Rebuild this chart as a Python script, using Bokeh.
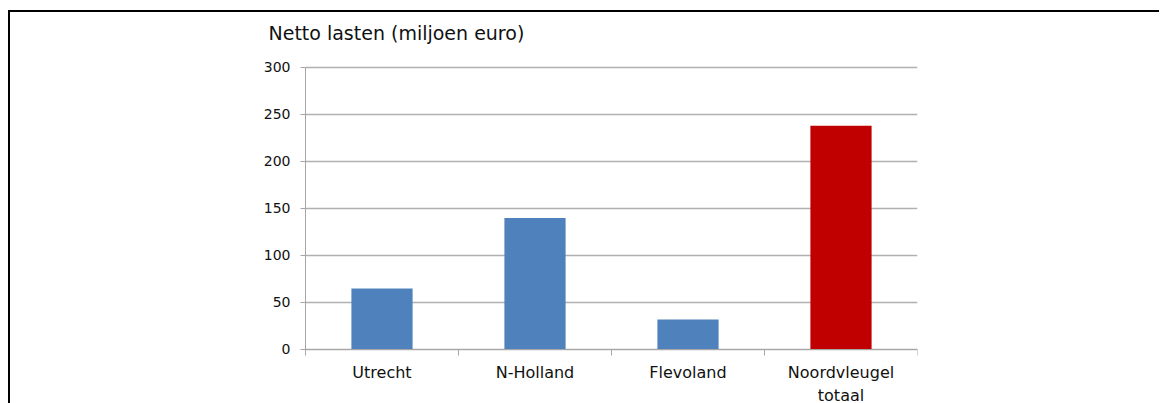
from bokeh.plotting import figure
from bokeh.models import Range1d, FixedTicker, ColumnDataSource, Label
from bokeh.embed import file_html
from bokeh.resources import INLINE

# ---- data ----
categories = ["Utrecht", "N-Holland", "Flevoland", "Noordvleugel\ntotaal"]
values = [65, 140, 32, 238]
bar_colors = ["#4F81BD", "#4F81BD", "#4F81BD", "#C00000"]
y_ticks = [0, 50, 100, 150, 200, 250, 300]
chart_title = "Netto lasten (miljoen euro)"

FONT = "DejaVu Sans"
AXIS_GRAY = "#A6A6A6"

n = len(categories)
y_max = y_ticks[-1]
centers = [i + 0.5 for i in range(n)]
bounds = [float(i) for i in range(n + 1)]

src = ColumnDataSource(dict(x=centers, top=values, color=bar_colors))

# frame covers the whole chart area so title and labels sit inside it;
# axes are pinned at x=0 / y=0 with bounds
p = figure(
    width=1151, height=401,
    x_range=Range1d(-0.3268, n), y_range=Range1d(-68.1, 358.5),
    output_backend="svg", toolbar_location=None,
    min_border_left=245, min_border_right=244,
    min_border_top=0, min_border_bottom=0,
)
p.styles = {"border-left": "2px solid black", "border-top": "2px solid black",
            "margin-top": "10px", "margin-left": "8px", "margin-bottom": "-10px"}
p.outline_line_color = None
p.background_fill_color = "white"
p.border_fill_color = "white"

p.vbar(x="x", top="top", width=0.4, bottom=0, color="color", line_color=None, source=src)

p.add_layout(Label(x=-0.242, y=336.2, text=chart_title, text_baseline="middle",
                   text_font=FONT, text_font_size="19px", text_color="#111111"))

# x axis
xa = p.xaxis[0]
xa.fixed_location = 0
xa.bounds = (0, n)
xa.ticker = FixedTicker(ticks=centers, minor_ticks=bounds)
xa.major_label_overrides = {c: lab for c, lab in zip(centers, categories)}
xa.major_tick_line_color = None
xa.major_tick_out = 0
xa.major_tick_in = 0
xa.minor_tick_line_color = AXIS_GRAY
xa.minor_tick_out = 6
xa.minor_tick_in = 0
xa.axis_line_color = AXIS_GRAY
xa.major_label_standoff = 8
xa.major_label_text_font = FONT
xa.major_label_text_font_size = "16px"
xa.major_label_text_color = "#111111"

# y axis
ya = p.yaxis[0]
ya.fixed_location = 0
ya.bounds = (0, y_max)
ya.ticker = FixedTicker(ticks=y_ticks)
ya.major_tick_line_color = AXIS_GRAY
ya.major_tick_out = 5
ya.major_tick_in = 0
ya.minor_tick_line_color = None
ya.axis_line_color = AXIS_GRAY
ya.major_label_standoff = 10
ya.major_label_text_font = FONT
ya.major_label_text_font_size = "14px"
ya.major_label_text_color = "#111111"

p.xgrid.visible = False
p.ygrid.ticker = FixedTicker(ticks=y_ticks)
p.ygrid.bounds = (0, y_max)
p.ygrid.cross_bounds = (0, n)
p.ygrid.grid_line_color = "#B0B0B0"
p.ygrid.grid_line_width = 1.5

open("out.html", "w").write(file_html(p, INLINE))
